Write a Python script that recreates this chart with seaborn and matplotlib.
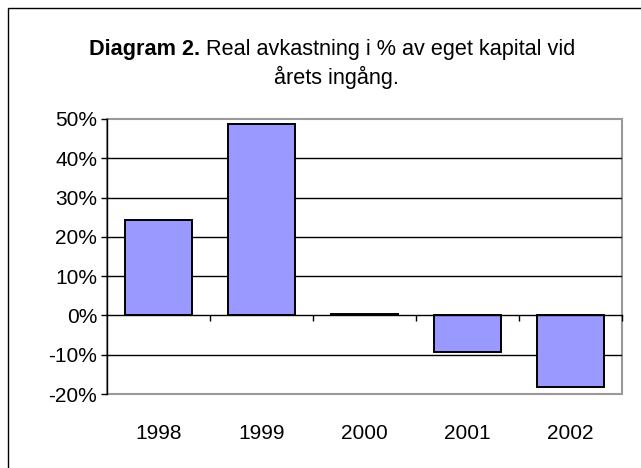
import seaborn as sns
import matplotlib.pyplot as plt
from matplotlib.patches import Rectangle
from matplotlib.ticker import FuncFormatter, FixedLocator

# data
years = ['1998', '1999', '2000', '2001', '2002']
returns = [24.2, 48.8, 0.3, -9.3, -18.1]
yticks = [-20, -10, 0, 10, 20, 30, 40, 50]

sns.set_theme(style='white')
plt.rcParams['font.family'] = ['Liberation Sans', 'DejaVu Sans']

W, H = 641, 468
fig = plt.figure(figsize=(W / 100, H / 100), dpi=100)

# plot area in pixels (left, top, right, bottom)
pl, pt, pr, pb = 107, 119, 622, 394
ax = fig.add_axes([pl / W, 1 - pb / H, (pr - pl) / W, (pb - pt) / H])

sns.barplot(x=years, y=returns, color='#9999FF', saturation=1,
            edgecolor='black', linewidth=1.4, width=0.65, ax=ax, zorder=3)

ax.set_ylim(-20, 50)
ax.set_xlim(-0.5, 4.5)
ax.set_yticks(yticks)
ax.yaxis.set_major_formatter(FuncFormatter(lambda v, p: f'{int(v)}%'))

# gridlines
for v in yticks:
    if -20 < v < 50 and v != 0:
        ax.axhline(v, color='black', lw=1, zorder=1)

# spines
for s in ['top', 'right', 'bottom', 'left']:
    ax.spines[s].set_visible(False)
ax.spines['left'].set_visible(True)
ax.spines['left'].set_color('black')
ax.spines['left'].set_linewidth(1)
ax.spines['left'].set_zorder(4)
ax.spines['bottom'].set_visible(True)
ax.spines['bottom'].set_position(('data', 0))
ax.spines['bottom'].set_color('black')
ax.spines['bottom'].set_linewidth(1)
ax.spines['bottom'].set_zorder(4)

# grey frame around plot area
ax.add_patch(Rectangle((0, 0), 1, 1, transform=ax.transAxes, fill=False,
                       edgecolor='#999999', lw=1.5, zorder=0, clip_on=False))

# ticks
ax.tick_params(axis='y', which='major', direction='out', length=4, width=1,
               color='black', labelsize=15, labelcolor='black', pad=3, left=True)
ax.xaxis.set_minor_locator(FixedLocator([0.5, 1.5, 2.5, 3.5, 4.5]))
ax.tick_params(axis='x', which='minor', direction='out', length=4, width=1,
               color='black', bottom=True)
ax.tick_params(axis='x', which='major', length=0, labelsize=15,
               labelcolor='black', pad=78)
ax.set_xlabel('')
ax.set_ylabel('')

# title with bold lead-in
tsize = 15.6
cx = 332 / W
y1 = 1 - 50 / H
fig.canvas.draw()
r = fig.canvas.get_renderer()
t_bold = fig.text(0, y1, 'Diagram 2.', fontsize=tsize, fontweight='bold',
                  ha='left', va='center', color='black')
t_norm = fig.text(0, y1, ' Real avkastning i % av eget kapital vid',
                  fontsize=tsize, ha='left', va='center', color='black')
wb = t_bold.get_window_extent(r).width / W
wn = t_norm.get_window_extent(r).width / W
x0 = cx - (wb + wn) / 2
t_bold.set_x(x0)
t_norm.set_x(x0 + wb)
fig.text(336 / W, 1 - 77 / H, 'årets ingång.', fontsize=tsize,
         ha='center', va='center', color='black')

# outer chart border (partly outside the image)
fig.patches.append(Rectangle((8 / W, -0.2), 1.2, (H - 8) / H + 0.2,
                             transform=fig.transFigure, fill=False,
                             edgecolor='black', lw=1))

fig.savefig('out.png', dpi=100)
